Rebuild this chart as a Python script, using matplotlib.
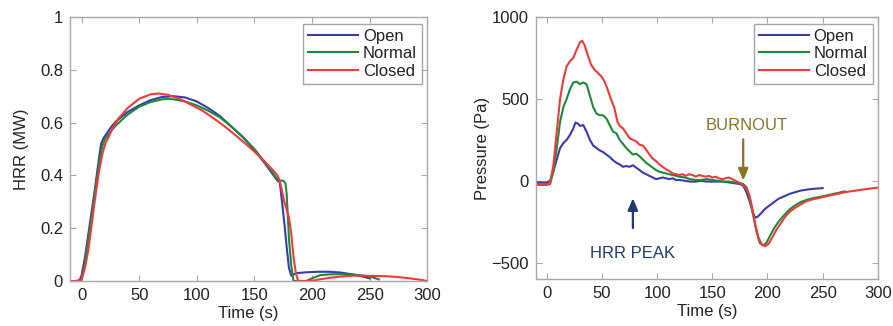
import matplotlib
matplotlib.use("Agg")
import matplotlib.pyplot as plt

plt.rcParams['font.family'] = ['Liberation Sans', 'DejaVu Sans']

series_names = ["Open", "Normal", "Closed"]
colors = ["#3a3aa8", "#1a8a3a", "#f03a3a"]

# HRR (MW)
hrr_open_t = [-5, -2, 0, 3, 6, 9, 12, 15, 17, 19, 22, 26, 30, 40, 50, 60, 70, 80, 90, 100, 110, 120, 130, 140,
              150, 160, 165, 170, 172, 174, 176, 178, 180, 182, 184, 187, 195, 205, 215, 225, 235, 245, 250]
hrr_open = [0, 0, 0.02, 0.09, 0.18, 0.27, 0.36, 0.46, 0.52, 0.54, 0.56, 0.585, 0.605, 0.64, 0.665, 0.685, 0.697,
            0.70, 0.695, 0.68, 0.655, 0.625, 0.585, 0.545, 0.497, 0.44, 0.41, 0.38, 0.375, 0.30, 0.22, 0.13, 0.05,
            0.02, 0.025, 0.03, 0.033, 0.035, 0.035, 0.032, 0.025, 0.016, 0.01]

hrr_normal_t = [-5, 0, 3, 6, 9, 12, 15, 18, 20, 25, 30, 40, 50, 60, 70, 75, 80, 90, 100, 110, 120, 130, 140, 150,
                160, 170, 172, 175, 177, 178, 179, 180, 182, 184, 195, 200, 207, 215, 225, 235, 245, 252, 258]
hrr_normal = [0, 0.005, 0.07, 0.16, 0.25, 0.35, 0.44, 0.51, 0.535, 0.565, 0.59, 0.63, 0.66, 0.678, 0.688, 0.69,
              0.688, 0.68, 0.665, 0.645, 0.62, 0.585, 0.545, 0.5, 0.445, 0.385, 0.38, 0.38, 0.37, 0.33, 0.25, 0.16,
              0.06, 0.0, 0.0, 0.01, 0.022, 0.025, 0.026, 0.025, 0.02, 0.015, 0.006]

hrr_closed_t = [-10, -2, 0, 3, 6, 9, 12, 15, 18, 21, 23, 27, 32, 40, 50, 60, 67, 75, 85, 95, 105, 115, 125, 135,
                145, 155, 165, 170, 172, 174, 176, 178, 180, 182, 184, 186, 188, 200, 205, 215, 225, 235, 245, 255,
                265, 275, 285, 295, 300]
hrr_closed = [0, 0, 0.005, 0.05, 0.12, 0.22, 0.32, 0.41, 0.48, 0.525, 0.54, 0.58, 0.615, 0.655, 0.69, 0.707, 0.71,
              0.705, 0.69, 0.668, 0.645, 0.615, 0.583, 0.547, 0.51, 0.47, 0.425, 0.40, 0.38, 0.34, 0.30, 0.27, 0.24,
              0.18, 0.09, 0.03, 0.0, 0.0, 0.005, 0.012, 0.017, 0.02, 0.02, 0.019, 0.018, 0.015, 0.01, 0.004, 0.0]

# Pressure (Pa)
p_open_t = [-10, 0, 3, 6, 9, 12, 15, 18, 21, 24, 26, 28, 30, 33, 36, 39, 42, 45, 48, 51, 54, 57, 60, 63, 66, 69,
            72, 75, 78, 81, 84, 87, 90, 93, 96, 99, 102, 105, 108, 111, 114, 117, 120, 125, 130, 135, 140, 145, 150,
            155, 160, 165, 170, 175, 178, 181, 184, 187, 189, 191, 194, 198, 202, 206, 210, 215, 220, 225, 230, 240,
            250]
p_open = [-10, -10, 0, 60, 130, 200, 230, 250, 280, 320, 355, 350, 335, 340, 300, 250, 215, 200, 185, 175, 160,
          145, 125, 110, 100, 85, 90, 85, 95, 80, 65, 50, 40, 30, 20, 10, 15, 20, 15, 10, 15, 5, 5, 0, -5, -5, 0,
          -5, -5, -5, -5, -10, -15, -20, -30, -70, -130, -200, -225, -220, -200, -170, -150, -130, -110, -95, -80,
          -70, -60, -50, -45]

p_normal_t = [-10, 0, 3, 6, 9, 12, 15, 18, 21, 24, 27, 30, 33, 36, 39, 42, 45, 48, 51, 54, 57, 60, 63, 66, 69, 72,
              75, 78, 81, 84, 87, 90, 93, 96, 99, 102, 105, 108, 111, 114, 117, 120, 125, 130, 135, 140, 145, 150,
              155, 160, 165, 170, 175, 178, 181, 184, 187, 190, 193, 196, 199, 202, 206, 210, 215, 220, 225, 230,
              235, 240, 250, 260, 270]
p_normal = [-25, -25, -20, 60, 200, 360, 450, 500, 560, 600, 605, 590, 600, 590, 520, 450, 410, 400, 400, 380, 340,
            300, 290, 250, 225, 200, 180, 160, 165, 150, 130, 110, 95, 80, 65, 55, 50, 45, 40, 35, 30, 25, 20, 10,
            5, 5, 10, 5, 0, -5, -5, -10, -15, -20, -40, -100, -210, -310, -380, -395, -380, -340, -290, -250, -210,
            -175, -150, -130, -118, -108, -95, -80, -65]

p_closed_t = [-10, 0, 3, 6, 9, 12, 15, 18, 21, 24, 27, 30, 32, 34, 37, 40, 43, 46, 49, 52, 55, 58, 61, 64, 66, 69,
              72, 75, 78, 81, 84, 87, 90, 93, 96, 99, 102, 105, 108, 111, 114, 117, 120, 123, 126, 129, 132, 135,
              138, 141, 144, 147, 150, 153, 156, 159, 162, 165, 168, 171, 174, 177, 180, 183, 186, 189, 192, 195,
              198, 201, 204, 208, 212, 216, 220, 225, 230, 235, 240, 250, 260, 270, 280, 290, 300]
p_closed = [-20, -20, -15, 100, 300, 500, 620, 700, 730, 750, 800, 845, 855, 830, 770, 710, 680, 660, 640, 610, 560,
            500, 450, 360, 335, 320, 290, 260, 250, 240, 220, 215, 190, 160, 135, 120, 100, 85, 70, 60, 45, 40, 35,
            40, 30, 40, 35, 25, 35, 30, 25, 30, 20, 25, 15, 10, 15, 20, 10, 0, -10, -20, -40, -80, -160, -270, -350,
            -390, -400, -385, -350, -300, -260, -220, -190, -165, -145, -125, -115, -100, -85, -70, -60, -50, -42]

fig = plt.figure(figsize=(8.93, 3.26), dpi=100)
ax1 = fig.add_axes([0.0784, 0.138, 0.400, 0.810])
ax2 = fig.add_axes([0.600, 0.144, 0.383, 0.804])

spine_c = "#a8a8a8"
txt_c = "#222222"
fs = 12


def style(ax):
    for s in ax.spines.values():
        s.set_color(spine_c)
        s.set_linewidth(1.0)
    ax.tick_params(direction="in", length=4, width=0.8, color=spine_c, labelcolor=txt_c,
                   labelsize=fs, top=True, right=True, pad=5)


for t, y, c, n in zip([hrr_open_t, hrr_normal_t, hrr_closed_t], [hrr_open, hrr_normal, hrr_closed], colors,
                      series_names):
    ax1.plot(t, y, color=c, lw=1.5, label=n)
ax1.set_xlim(-10, 300)
ax1.set_ylim(0, 1)
ax1.set_xticks([0, 50, 100, 150, 200, 250, 300])
ax1.set_yticks([0, 0.2, 0.4, 0.6, 0.8, 1])
ax1.set_yticklabels(["0", "0.2", "0.4", "0.6", "0.8", "1"])
ax1.set_xlabel("Time (s)", fontsize=fs, color=txt_c, labelpad=2)
ax1.set_ylabel("HRR (MW)", fontsize=fs, color=txt_c, labelpad=8)
style(ax1)

for t, y, c, n in zip([p_open_t, p_normal_t, p_closed_t], [p_open, p_normal, p_closed], colors, series_names):
    ax2.plot(t, y, color=c, lw=1.5, label=n)
ax2.set_xlim(-10, 300)
ax2.set_ylim(-600, 1000)
ax2.set_xticks([0, 50, 100, 150, 200, 250, 300])
ax2.set_yticks([-500, 0, 500, 1000])
ax2.set_xlabel("Time (s)", fontsize=fs, color=txt_c, labelpad=2)
ax2.set_ylabel("Pressure (Pa)", fontsize=fs, color=txt_c, labelpad=1)
style(ax2)

for ax in (ax1, ax2):
    leg = ax.legend(loc="upper right", bbox_to_anchor=(0.985, 0.975), borderaxespad=0, fontsize=fs,
                    frameon=True, fancybox=False, handlelength=3.0, handletextpad=0.3, labelspacing=0.15,
                    borderpad=0.3)
    leg.get_frame().set_edgecolor("#909090")
    leg.get_frame().set_linewidth(1.0)
    for tx in leg.get_texts():
        tx.set_color(txt_c)

burn_c = "#8a7420"
peak_c = "#1f3a6e"
ax2.annotate("", xy=(178, -15), xytext=(178, 270),
             arrowprops=dict(arrowstyle="-|>,head_length=0.7,head_width=0.3", color=burn_c, lw=1.6))
ax2.text(181, 335, "BURNOUT", color=burn_c, fontsize=fs, ha="center", va="center")
ax2.annotate("", xy=(78, -90), xytext=(78, -305),
             arrowprops=dict(arrowstyle="-|>,head_length=0.7,head_width=0.3", color=peak_c, lw=1.6))
ax2.text(78, -446, "HRR PEAK", color=peak_c, fontsize=fs, ha="center", va="center")

fig.savefig("out.png", dpi=100)
